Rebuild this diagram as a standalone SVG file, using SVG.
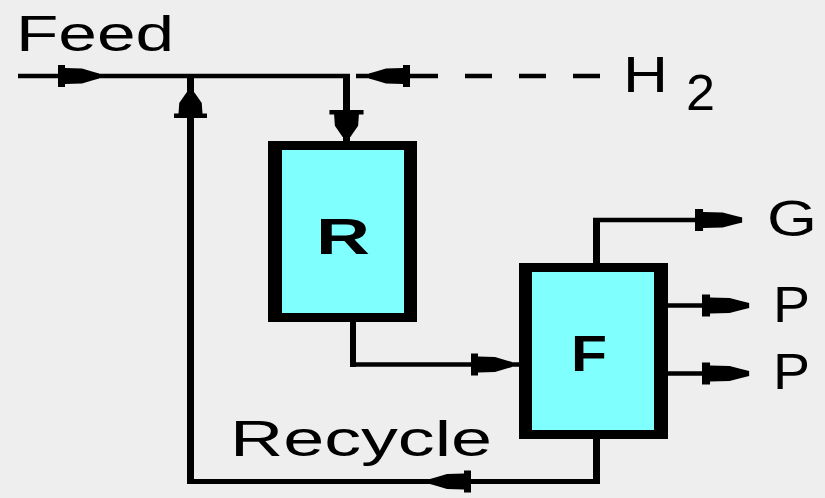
<svg xmlns="http://www.w3.org/2000/svg" xmlns:xlink="http://www.w3.org/1999/xlink" width="825" height="498" viewBox="0 0 825 498">
<style>
.ln{stroke:#000;fill:none}
.h{stroke-width:4.5}
.v{stroke-width:7}
.box{fill:#000}
.in{fill:#80ffff}
.t{font-family:"Liberation Sans",Arial,sans-serif;fill:#000;font-size:50px}
.b{font-weight:bold}
.ah{fill:#000}
</style>
<defs>
<polygon id="ah" points="0,-11 7,-11 7,-8 24,-7.5 34,-4.5 41,-2.5 41,2.5 34,4.5 24,7.5 7,8 7,11 0,11"/>
</defs>
<rect width="825" height="498" fill="#eeeeee"/>
<g id="connectors">
<line class="ln h" x1="18" y1="76" x2="350" y2="76"/>
<line class="ln v" x1="346.5" y1="76" x2="346.5" y2="141"/>
<line class="ln h" x1="356" y1="76" x2="438" y2="76"/>
<line class="ln h" x1="465" y1="76" x2="600" y2="76" stroke-dasharray="27 27"/>
<line class="ln v" x1="190.5" y1="74" x2="190.5" y2="484"/>
<line class="ln" stroke-width="5" x1="187" y1="481.5" x2="600" y2="481.5"/>
<line class="ln v" x1="596.5" y1="439" x2="596.5" y2="484"/>
<line class="ln" stroke-width="6" x1="353" y1="322" x2="353" y2="367"/>
<line class="ln h" x1="350" y1="364.5" x2="519" y2="364.5"/>
<line class="ln v" x1="596.5" y1="263" x2="596.5" y2="218"/>
<line class="ln h" x1="593" y1="220" x2="742" y2="220"/>
<line class="ln h" x1="668" y1="305.5" x2="749" y2="305.5"/>
<line class="ln h" x1="668" y1="373.5" x2="749" y2="373.5"/>
<use xlink:href="#ah" class="ah" transform="translate(58,76)"/>
<use xlink:href="#ah" class="ah" transform="translate(410,76) scale(-1,1)"/>
<use xlink:href="#ah" class="ah" transform="translate(346.5,110) rotate(90) scale(0.66,1.55)"/>
<use xlink:href="#ah" class="ah" transform="translate(190.5,118) rotate(-90) scale(0.63,1.5)"/>
<use xlink:href="#ah" class="ah" transform="translate(471,364.5)"/>
<use xlink:href="#ah" class="ah" transform="translate(695,220) scale(1.15,1)"/>
<use xlink:href="#ah" class="ah" transform="translate(702,305.5) scale(1.15,1)"/>
<use xlink:href="#ah" class="ah" transform="translate(702,373.5) scale(1.15,1)"/>
<use xlink:href="#ah" class="ah" transform="translate(471,481.5) scale(-1,1)"/>
</g>
<g id="R">
<rect class="box" x="268" y="141" width="149" height="181"/>
<rect class="in" x="282" y="150" width="122" height="163"/>
<text class="t b" x="316" y="254" font-size="57" textLength="54" lengthAdjust="spacingAndGlyphs">R</text>
</g>
<g id="F">
<rect class="box" x="519" y="263" width="149" height="176"/>
<rect class="in" x="532" y="272" width="122" height="158"/>
<text class="t b" x="571" y="371" font-size="56" textLength="36" lengthAdjust="spacingAndGlyphs">F</text>
</g>
<g id="labels">
<text class="t" x="16" y="51" textLength="158" lengthAdjust="spacingAndGlyphs">Feed</text>
<text class="t" x="623" y="92" textLength="45" lengthAdjust="spacingAndGlyphs">H</text>
<text class="t" x="686" y="110" font-size="44" textLength="29" lengthAdjust="spacingAndGlyphs">2</text>
<text class="t" x="767" y="236" textLength="50" lengthAdjust="spacingAndGlyphs">G</text>
<text class="t" x="773" y="322" textLength="37" lengthAdjust="spacingAndGlyphs">P</text>
<text class="t" x="773" y="389" textLength="37" lengthAdjust="spacingAndGlyphs">P</text>
<text class="t" x="230" y="456" font-size="47" textLength="262" lengthAdjust="spacingAndGlyphs">Recycle</text>
</g>
</svg>
